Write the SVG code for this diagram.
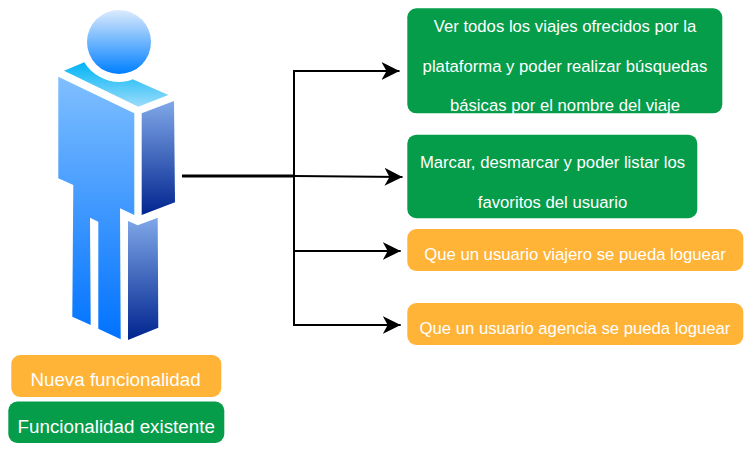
<svg xmlns="http://www.w3.org/2000/svg" width="752" height="451" viewBox="0 0 752 451">
<style>
.t{font-family:"Liberation Sans",Arial,sans-serif;font-size:16.7px;fill:#fff;text-anchor:middle}
.l{font-size:18.8px}
.g{fill:#059c4a}
.o{fill:#ffb337}
.c{fill:none;stroke:#000;stroke-width:2}
</style>
<defs>
<marker id="a" markerUnits="userSpaceOnUse" markerWidth="20" markerHeight="20" refX="18" refY="10" orient="auto"><path d="M0 1 L18 10 L0 19 L5 10Z" fill="#000"/></marker>
<linearGradient id="h" x1="0" y1="0" x2="0" y2="1"><stop offset="0" stop-color="#dcebfd"/><stop offset="1" stop-color="#007fff"/></linearGradient>
<linearGradient id="s" x1="0" y1="0" x2="0" y2="1"><stop offset="0" stop-color="#00b4f5"/><stop offset="1" stop-color="#9bdcfb"/></linearGradient>
<linearGradient id="b" gradientUnits="userSpaceOnUse" x1="0" y1="76" x2="0" y2="340"><stop offset="0" stop-color="#80bfff"/><stop offset="1" stop-color="#0072ff"/></linearGradient>
<linearGradient id="d" x1="0" y1="0" x2="0" y2="1"><stop offset="0" stop-color="#80a8e8"/><stop offset="1" stop-color="#00248f"/></linearGradient>
</defs>
<g id="person">
<circle cx="119" cy="42" r="32" fill="url(#h)"/>
<path d="M64 70.700 L84.300 62.300 C92 75 106 82 119 82 C124 82 129 81 132.700 79.300 L168.300 95 L138.300 106.700Z" fill="url(#s)"/>
<path d="M58.300 76.700 L134.300 113.300 V215 L120 208.300 L120.700 339.300 L98.300 328.700 V221.700 L90 217.700 L90.700 325 L72.300 316.700 L73.300 185 L58.300 178.300Z" fill="url(#b)"/>
<path d="M141.700 113.300 L174 101 L175 202.300 L141.700 215Z" fill="url(#d)"/>
<path d="M128 221 L137.700 225.300 L157.700 217.700 L158.300 327.700 L128 340Z" fill="url(#d)"/>
</g>
<g id="connectors">
<path d="M182 176 H294" fill="none" stroke="#000" stroke-width="3"/>
<path class="c" d="M294 176 V71 H399.500" marker-end="url(#a)"/>
<path class="c" d="M294 176 L402.500 177" marker-end="url(#a)"/>
<path class="c" d="M294 176 V251 H400.700" marker-end="url(#a)"/>
<path class="c" d="M294 176 V325 H400.700" marker-end="url(#a)"/>
</g>
<g id="n1"><rect class="g" x="407.300" y="8.300" width="315" height="105" rx="9"/>
<text class="t" x="565" y="32">Ver todos los viajes ofrecidos por la</text>
<text class="t" x="565" y="71.500">plataforma y poder realizar búsquedas</text>
<text class="t" x="565" y="111">básicas por el nombre del viaje</text></g>
<g id="n2"><rect class="g" x="407.300" y="134.700" width="290" height="83.500" rx="9"/>
<text class="t" x="552.500" y="168">Marcar, desmarcar y poder listar los</text>
<text class="t" x="552.500" y="208">favoritos del usuario</text></g>
<g id="n3"><rect class="o" x="407.300" y="229" width="336" height="42" rx="9"/>
<text class="t" x="575" y="260">Que un usuario viajero se pueda loguear</text></g>
<g id="n4"><rect class="o" x="407.300" y="303" width="336" height="42" rx="9"/>
<text class="t" x="575" y="334">Que un usuario agencia se pueda loguear</text></g>
<g id="legend-new"><rect class="o" x="11.300" y="355" width="210" height="42" rx="9"/>
<text class="t l" x="115.500" y="385.700">Nueva funcionalidad</text></g>
<g id="legend-existing"><rect class="g" x="8.300" y="401.500" width="216" height="41.500" rx="9"/>
<text class="t l" x="116.200" y="432.500">Funcionalidad existente</text></g>
</svg>
